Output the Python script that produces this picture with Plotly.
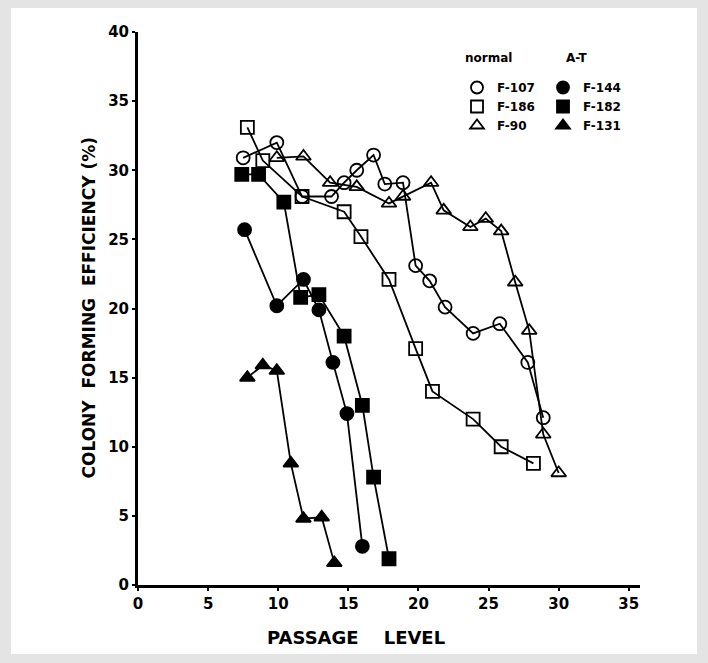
import plotly.graph_objects as go

# ---- data (passage level, colony forming efficiency %) ----
f107_x = [7.5, 9.9, 11.7, 13.8, 14.7, 15.6, 16.8, 17.6, 18.9, 19.8, 20.8, 21.9, 23.9, 25.8, 27.8, 28.9]
f107_y = [30.9, 32.0, 28.1, 28.1, 29.1, 30.0, 31.1, 29.0, 29.1, 23.1, 22.0, 20.1, 18.2, 18.9, 16.1, 12.1]

f186_x = [7.8, 8.9, 11.7, 14.7, 15.9, 17.9, 19.8, 21.0, 23.9, 25.9, 28.2]
f186_y = [33.1, 30.7, 28.1, 27.0, 25.2, 22.1, 17.1, 14.0, 12.0, 10.0, 8.8]

f90_x = [9.9, 11.8, 13.7, 15.6, 17.9, 18.9, 20.9, 21.8, 23.7, 24.8, 25.9, 26.9, 27.9, 28.9, 30.0]
f90_y = [30.9, 31.0, 29.1, 28.8, 27.6, 28.1, 29.1, 27.1, 25.9, 26.5, 25.6, 21.9, 18.4, 10.9, 8.1]

f144_x = [7.6, 9.9, 11.8, 12.9, 13.9, 14.9, 16.0]
f144_y = [25.7, 20.2, 22.1, 19.9, 16.1, 12.4, 2.8]

f182_x = [7.4, 8.6, 10.4, 11.6, 12.9, 14.7, 16.0, 16.8, 17.9]
f182_y = [29.7, 29.7, 27.7, 20.8, 21.0, 18.0, 13.0, 7.8, 1.9]

f131_x = [7.8, 8.9, 9.9, 10.9, 11.8, 13.1, 14.0]
f131_y = [15.0, 15.9, 15.5, 8.8, 4.8, 4.9, 1.6]

x_ticks = [0, 5, 10, 15, 20, 25, 30, 35]
y_ticks = [0, 5, 10, 15, 20, 25, 30, 35, 40]

series = [
    ("F-107", f107_x, f107_y, "circle-open", "legend"),
    ("F-186", f186_x, f186_y, "square-open", "legend"),
    ("F-90", f90_x, f90_y, "triangle-up-open", "legend"),
    ("F-144", f144_x, f144_y, "circle", "legend2"),
    ("F-182", f182_x, f182_y, "square", "legend2"),
    ("F-131", f131_x, f131_y, "triangle-up", "legend2"),
]

fig = go.Figure()
for name, xs, ys, sym, lg in series:
    fig.add_trace(go.Scatter(
        x=xs, y=ys, mode="lines+markers", name=name, showlegend=False,
        line=dict(color="black", width=1.8),
        marker=dict(symbol=sym, size=13, color="black",
                    line=dict(color="black", width=1.8)),
    ))
for name, xs, ys, sym, lg in series:
    fig.add_trace(go.Scatter(
        x=[None], y=[None], mode="markers", name=name, legend=lg,
        marker=dict(symbol=sym, size=12, color="black",
                    line=dict(color="black", width=1.8)),
    ))

# page body has an 8px margin: plot area 138..640 x 32..585 on screen
L, T, PW, PH = 138, 32, 502, 553
def px(sx):
    return (sx - L) / PW
def py(sy):
    return (T + PH - sy) / PH

font_main = "DejaVu Sans"
fig.update_layout(
    width=708, height=663,
    margin=dict(l=130, r=76, t=24, b=86),
    paper_bgcolor="#e4e4e4",
    plot_bgcolor="white",
    font=dict(family=font_main, color="black", size=14),
    xaxis=dict(range=[0, 35.8], tickvals=x_ticks, showline=True, linewidth=3,
               linecolor="black", ticks="outside", ticklen=3, tickwidth=1.5,
               tickcolor="black", showgrid=False, zeroline=False,
               tickfont=dict(size=15, weight="bold")),
    yaxis=dict(range=[0, 40], tickvals=y_ticks, showline=True, linewidth=3,
               linecolor="black", ticks="outside", ticklen=3, tickwidth=1.5,
               tickcolor="black", showgrid=False, zeroline=False,
               tickfont=dict(size=15, weight="bold")),
    legend=dict(x=px(457), y=py(73), xanchor="left", yanchor="top",
                bgcolor="rgba(0,0,0,0)", font=dict(size=12, weight="bold"),
                itemwidth=30, tracegroupgap=0),
    legend2=dict(x=px(543), y=py(73), xanchor="left", yanchor="top",
                 bgcolor="rgba(0,0,0,0)", font=dict(size=12, weight="bold"),
                 itemwidth=30, tracegroupgap=0),
    shapes=[dict(type="rect", xref="paper", yref="paper",
                 x0=px(11), x1=px(697), y0=py(654), y1=py(6),
                 fillcolor="white", line=dict(width=0), layer="below")],
    annotations=[
        dict(text="COLONY  FORMING  EFFICIENCY (%)", xref="paper", yref="paper",
             x=px(88), y=0.5, textangle=-90, showarrow=False,
             xanchor="center", yanchor="middle", font=dict(size=17, weight="bold")),
        dict(text="PASSAGE    LEVEL", xref="paper", yref="paper",
             x=px(356), y=py(637), showarrow=False,
             xanchor="center", yanchor="middle", font=dict(size=18, weight="bold")),
        dict(text="normal", xref="paper", yref="paper", x=px(488), y=py(58),
             showarrow=False, xanchor="center", yanchor="middle",
             font=dict(size=12, weight="bold")),
        dict(text="A-T", xref="paper", yref="paper", x=px(577), y=py(58),
             showarrow=False, xanchor="center", yanchor="middle",
             font=dict(size=12, weight="bold")),
    ],
)

fig.write_html("out.html", post_script="document.body.style.backgroundColor='#e4e4e4';")
